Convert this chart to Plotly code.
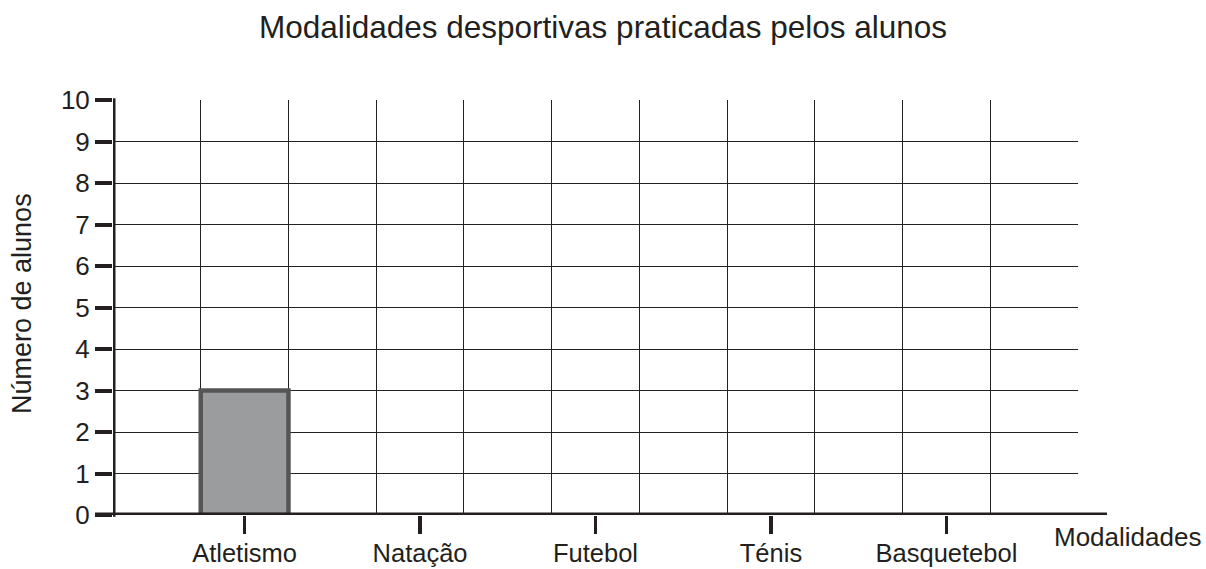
import plotly.graph_objects as go

categories = ["Atletismo", "Natação", "Futebol", "Ténis", "Basquetebol"]
values = [3, None, None, None, None]
cat_pos = [1.5, 3.5, 5.5, 7.5, 9.5]
y_ticks = list(range(0, 11))

INK = "#231f20"
FONT = "Liberation Sans, Arial, sans-serif"

fig = go.Figure()
fig.add_trace(go.Bar(
    x=cat_pos, y=values, width=1,
    marker=dict(color="#9b9c9e", line=dict(color="#555555", width=4.5)),
    hoverinfo="skip",
))

fig.update_layout(
    width=1206, height=569,
    margin=dict(l=113, r=128, t=100, b=54, autoexpand=False),
    paper_bgcolor="white", plot_bgcolor="white",
    showlegend=False,
    title=dict(text="Modalidades desportivas praticadas pelos alunos",
               xref="container", x=0.5, xanchor="center",
               yref="container", y=1 - 27 / 569, yanchor="middle",
               font=dict(family=FONT, size=31.5, color=INK)),
    font=dict(family=FONT, color=INK),
)

fig.update_xaxes(
    range=[0, 11], showline=False, zeroline=False, automargin=False,
    tickvals=cat_pos, ticktext=categories,
    ticks="outside", ticklen=18, tickwidth=3.5, tickcolor=INK,
    tickfont=dict(family=FONT, size=25.5, color=INK),
    ticklabelstandoff=-3,
    showgrid=False,
    minor=dict(dtick=1, tick0=0, showgrid=True, gridcolor="#222222", gridwidth=1, ticks=""),
)
fig.update_yaxes(
    range=[0, 10], showline=False, zeroline=False, automargin=False,
    tickvals=y_ticks,
    ticks="outside", ticklen=17, tickwidth=4, tickcolor=INK,
    tickfont=dict(family=FONT, size=26, color=INK),
    showgrid=True, gridcolor="#222222", gridwidth=1,
)

# thick axis lines
fig.add_shape(type="line", xref="paper", yref="y", x0=-18/965, x1=(1107-113)/965, y0=0, y1=0,
              line=dict(color=INK, width=5), layer="above")
fig.add_shape(type="line", xref="x", yref="paper", x0=0, x1=0, y0=-0.004, y1=1.004,
              line=dict(color=INK, width=5), layer="above")

fig.add_annotation(text="Número de alunos", xref="paper", yref="paper",
                   x=-(113-22)/965, y=(515-304)/415, xanchor="center", yanchor="middle",
                   textangle=-90, showarrow=False,
                   font=dict(family=FONT, size=27, color=INK))
fig.add_annotation(text="Modalidades", xref="paper", yref="paper",
                   x=(1127-113)/965, y=-(537-515)/415, xanchor="center", yanchor="middle",
                   showarrow=False, font=dict(family=FONT, size=26, color=INK))

fig.write_html("out.html",
               config={"displayModeBar": False, "staticPlot": True},
               post_script="document.body.style.margin='0';document.body.style.padding='0';"
                           "document.documentElement.style.overflow='hidden';")
